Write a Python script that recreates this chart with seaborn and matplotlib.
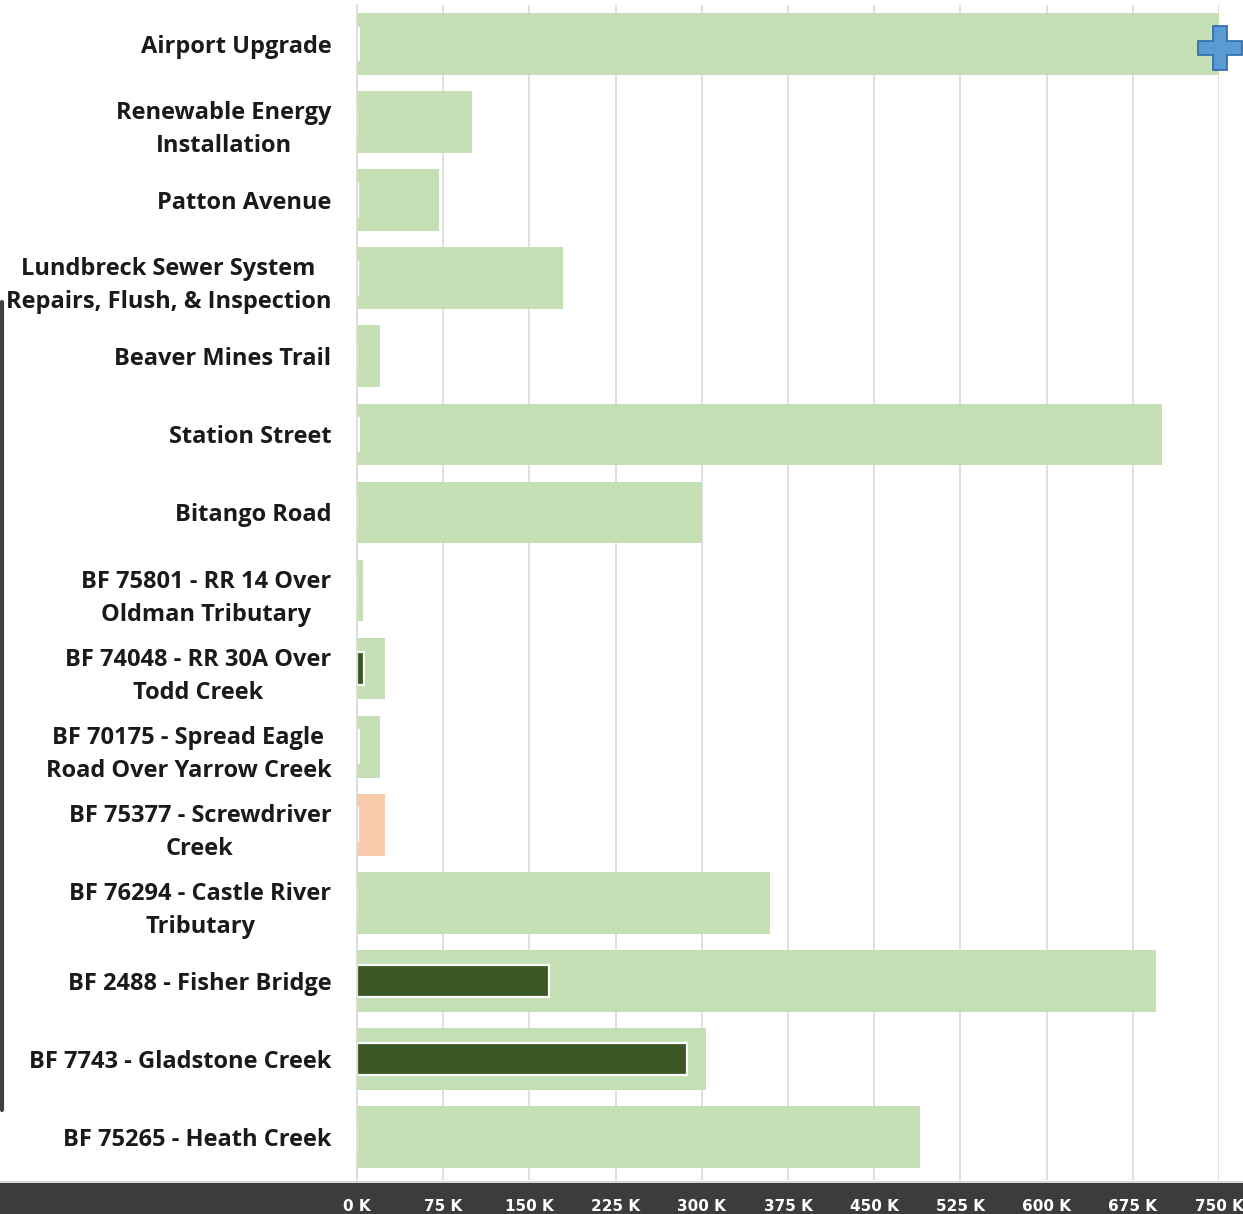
import matplotlib
matplotlib.use("Agg")
import matplotlib.pyplot as plt
import seaborn as sns
import pandas as pd
from matplotlib.lines import Line2D
from matplotlib.patches import Rectangle

projects = [
    "Airport Upgrade",
    "Renewable Energy\nInstallation",
    "Patton Avenue",
    "Lundbreck Sewer System\nRepairs, Flush, & Inspection",
    "Beaver Mines Trail",
    "Station Street",
    "Bitango Road",
    "BF 75801 - RR 14 Over\nOldman Tributary",
    "BF 74048 - RR 30A Over\nTodd Creek",
    "BF 70175 - Spread Eagle\nRoad Over Yarrow Creek",
    "BF 75377 - Screwdriver\nCreek",
    "BF 76294 - Castle River\nTributary",
    "BF 2488 - Fisher Bridge",
    "BF 7743 - Gladstone Creek",
    "BF 75265 - Heath Creek",
]
budget_k = [751, 100, 71, 179, 20, 700, 300, 5, 24, 20, 24, 359, 695, 304, 490]
actual_k = [2, 0, 1, 1, 0, 2, 0, 0, 6, 1.5, 1, 0, 167, 287, 0]
status = ["ok", "ok", "ok", "ok", "ok", "ok", "ok", "ok", "ok", "ok", "warn", "ok", "ok", "ok", "ok"]
tick_vals = [0, 75, 150, 225, 300, 375, 450, 525, 600, 675, 750]
tick_labels = [f"{v} K" for v in tick_vals]

LIGHT = "#c5e0b4"
PEACH = "#f8cbad"
DARK = "#3b5724"

df = pd.DataFrame({"project": projects, "budget": budget_k, "actual": actual_k, "status": status})
palette = {p: (PEACH if s == "warn" else LIGHT) for p, s in zip(projects, status)}

sns.set_style("white")
plt.rcParams["font.family"] = ["Open Sans", "DejaVu Sans"]

fig = plt.figure(figsize=(12.43, 12.14), dpi=100)
ax = fig.add_axes([357 / 1243, 1 - 1180 / 1214, (1219 - 357) / 1243, (1180 - 5) / 1214])

ax.set_axisbelow(True)
ax.grid(axis="x", color="#d9d9d9", linewidth=1.2)
ax.grid(axis="y", visible=False)

sns.barplot(data=df, y="project", x="budget", hue="project", palette=palette,
            orient="h", width=0.79, legend=False, ax=ax, linewidth=0, saturation=1)
sns.barplot(data=df, y="project", x="actual", orient="h", width=0.42, color=DARK,
            edgecolor="white", linewidth=1.6, ax=ax, saturation=1)

ax.set_xlim(0, 750)
ax.set_ylim(14.55, -0.5)
ax.set_xticks(tick_vals)
ax.set_xticklabels(tick_labels)
ax.set_xlabel("")
ax.set_ylabel("")
for s in ["top", "right", "bottom"]:
    ax.spines[s].set_visible(False)
ax.spines["left"].set_color("#d9d9d9")
ax.spines["left"].set_linewidth(1.2)

ax.tick_params(axis="x", length=0, pad=14, labelcolor="white", labelsize=11)
for t in ax.get_xticklabels():
    t.set_fontweight("bold")
    t.set_family(["DejaVu Sans"])
ax.tick_params(axis="y", length=0, pad=18.5, labelsize=17, labelcolor="#1a1a1a")
for t in ax.get_yticklabels():
    t.set_fontweight("bold")
    t.set_linespacing(1.5)
    t.set_horizontalalignment("right")
    t.set_multialignment("center")

# dark band at the bottom
fig.add_artist(Rectangle((0, 0), 1, 31 / 1214, transform=fig.transFigure,
                         facecolor="#3c3c3c", edgecolor="none", zorder=-1))
fig.add_artist(Line2D([0, 1], [32 / 1214, 32 / 1214], transform=fig.transFigure,
                      color="#d0d0d0", linewidth=1.2))
# left dark edge
fig.add_artist(Line2D([1.5 / 1243, 1.5 / 1243], [1 - 1110 / 1214, 1 - 302 / 1214],
                      transform=fig.transFigure, color="#404040", linewidth=3))

# blue plus marker on the top bar end
ax.plot([budget_k[0]], [0.05], marker="P", markersize=31, color="#5b9bd5",
        markeredgecolor="#2e6aa8", markeredgewidth=1.2, clip_on=False, zorder=5)

fig.savefig("out.png", dpi=100)
